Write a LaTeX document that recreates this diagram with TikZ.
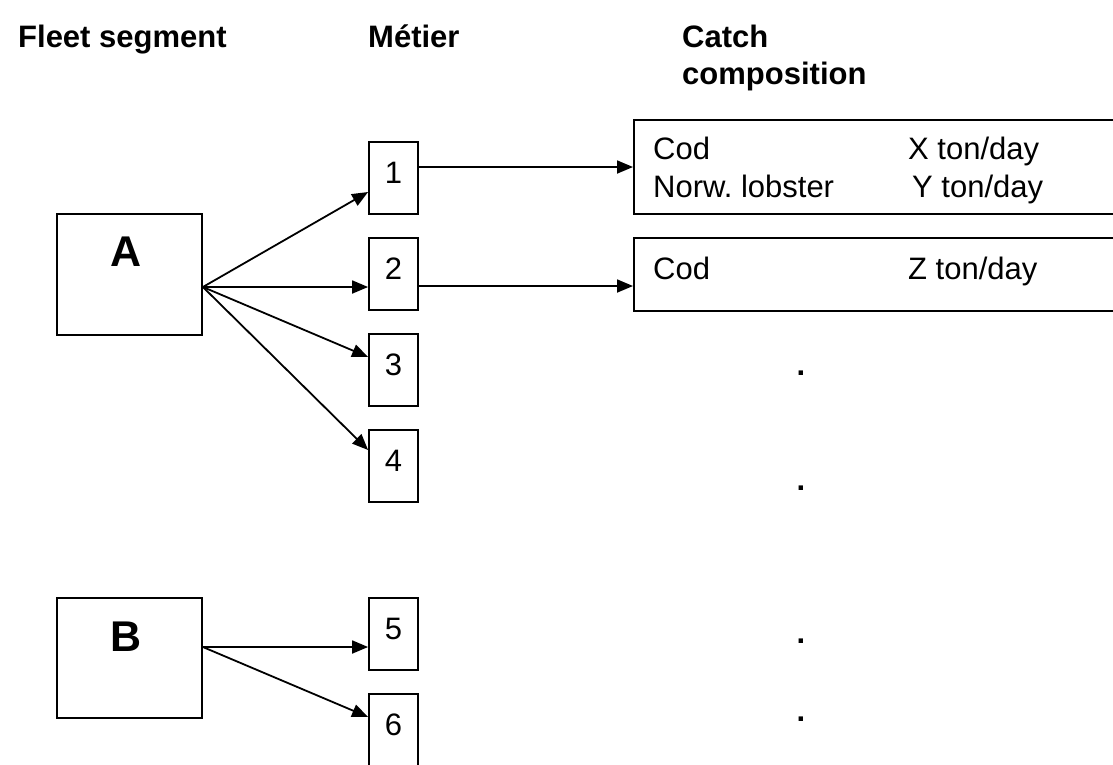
\documentclass[tikz,border=0pt]{standalone}
\usepackage{fontspec}
\setmainfont{Liberation Sans}
\frenchspacing
\usetikzlibrary{arrows.meta}
\tikzset{
  box/.style={draw, line width=1.8pt, inner sep=0pt},
  metbox/.style={box, minimum width=49pt, minimum height=72pt, text depth=10pt, font=\fontsize{31pt}{37pt}\selectfont},
  segbox/.style={box, minimum width=145pt, minimum height=121pt},
  catbox/.style={box, anchor=west, minimum width=600pt},
  txt/.style={inner sep=0pt, anchor=base west, font=\fontsize{31pt}{37pt}\selectfont},
  dotmark/.style={inner sep=0pt, anchor=base, font=\fontsize{31pt}{37pt}\selectfont\bfseries},
  head/.style={inner sep=0pt, font=\fontsize{31pt}{37pt}\selectfont\bfseries},
  big/.style={inner sep=0pt, anchor=base, font=\fontsize{43pt}{50pt}\selectfont\bfseries},
  arr/.style={line width=1.8pt, -{Triangle[length=16pt,width=13pt]}},
}
\begin{document}
\begin{tikzpicture}[x=1pt,y=1pt]
\clip (0,0) rectangle (1113,-764);
% headers
\node[head, anchor=base west] (h1) at (18,-47) {Fleet segment};
\node[head, anchor=base west] (h2) at (368,-47) {Métier};
\node[head, anchor=north west, align=left] (h3) at (682,-24.5) {Catch\\composition};
% fleet segments
\node[segbox] (A) at (129.5,-274.5) {};
\node[big] (Alab) at (126,-266) {A};
\node[segbox, minimum height=120pt] (B) at (129.5,-658) {};
\node[big] (Blab) at (126,-651) {B};
% metier boxes
\node[metbox] (m1) at (393.5,-178) {1};
\node[metbox] (m2) at (393.5,-274) {2};
\node[metbox] (m3) at (393.5,-370) {3};
\node[metbox] (m4) at (393.5,-466) {4};
\node[metbox] (m5) at (393.5,-634) {5};
\node[metbox] (m6) at (393.5,-730) {6};
% catch composition boxes
\node[catbox, minimum height=94pt] (c1) at (633,-167) {};
\node[catbox, minimum height=73pt] (c2) at (633,-274.5) {};
\node[txt] (t1) at (653,-159) {Cod};
\node[txt] (t2) at (653,-197) {Norw. lobster};
\node[txt] (t3) at (908,-159) {X ton/day};
\node[txt] (t4) at (912,-197) {Y ton/day};
\node[txt] (t5) at (653,-279) {Cod};
\node[txt] (t6) at (908,-279) {Z ton/day};
% dots
\node[dotmark] (d1) at (801,-375) {.};
\node[dotmark] (d2) at (801,-490) {.};
\node[dotmark] (d3) at (801,-643) {.};
\node[dotmark] (d4) at (801,-721) {.};
% connectors
\coordinate (As) at ([yshift=-12.5pt]A.east);
\coordinate (Bs) at ([yshift=11pt]B.east);
\draw[arr] (As) -- ([yshift=-14pt]m1.west);
\draw[arr] (As) -- ([yshift=-13pt]m2.west);
\draw[arr] (As) -- ([yshift=13pt]m3.west);
\draw[arr] (As) -- ([yshift=16pt]m4.west);
\draw[arr] (Bs) -- ([yshift=-13pt]m5.west);
\draw[arr] (Bs) -- ([yshift=13pt]m6.west);
\draw[arr] ([yshift=11pt]m1.east) -- (c1.west);
\draw[arr] ([yshift=-12pt]m2.east) -- ([yshift=-11.5pt]c2.west);
\end{tikzpicture}
\end{document}
